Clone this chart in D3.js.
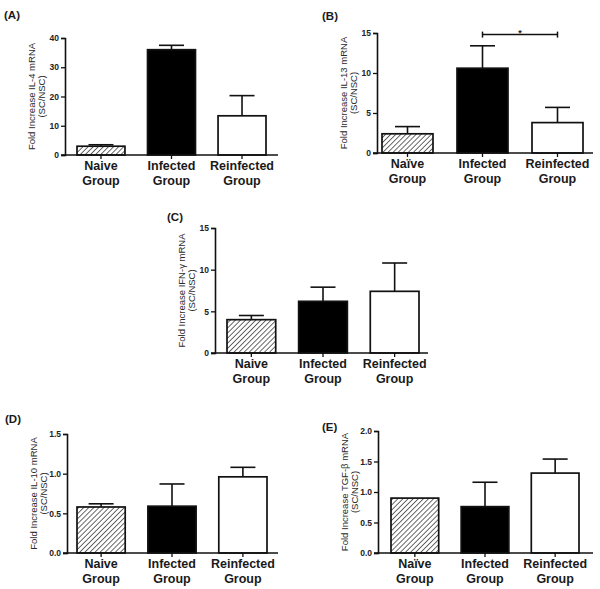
<!DOCTYPE html>
<html>
<head>
<meta charset="utf-8">
<script src="https://cdn.jsdelivr.net/npm/d3@7"></script>
<style>
  body { margin: 0; background: #fff; }
  svg { display: block; font-family: "Liberation Sans", Arial, sans-serif; }
</style>
</head>
<body>
<div id="container"></div>
<script>
const WIDTH = 600;
const HEIGHT = 589;

// categories
const groupsPlain = ["Naive", "Infected", "Reinfected"];
const groupsUmlaut = ["Naïve", "Infected", "Reinfected"];
const fills = ["hatch", "#000", "#fff"];

// series: means and upper error (SEM)
const il4Mean = [3.0, 36.0, 13.4];
const il4Sem = [0.5, 1.5, 6.9];
const il13Mean = [2.4, 10.6, 3.8];
const il13Sem = [0.9, 2.8, 1.9];
const ifngMean = [4.0, 6.2, 7.4];
const ifngSem = [0.5, 1.7, 3.4];
const il10Mean = [0.58, 0.59, 0.96];
const il10Sem = [0.04, 0.28, 0.12];
const tgfbMean = [0.9, 0.76, 1.31];
const tgfbSem = [0.0, 0.4, 0.23];

// tick labels
const il4Ticks = [0, 10, 20, 30, 40];
const il13Ticks = [0, 5, 10, 15];
const ifngTicks = [0, 5, 10, 15];
const il10Ticks = [0, 0.5, 1.0, 1.5];
const tgfbTicks = [0, 0.5, 1.0, 1.5, 2.0];

const svg = d3
  .select("#container")
  .append("svg")
  .attr("width", WIDTH)
  .attr("height", HEIGHT);

const defs = svg.append("defs");
const pattern = defs
  .append("pattern")
  .attr("id", "hatch")
  .attr("patternUnits", "userSpaceOnUse")
  .attr("width", 3.6)
  .attr("height", 3.6)
  .attr("patternTransform", "rotate(45)");
pattern.append("rect").attr("width", 3.6).attr("height", 3.6).attr("fill", "#fff");
pattern
  .append("line")
  .attr("x1", 0)
  .attr("y1", 0)
  .attr("x2", 0)
  .attr("y2", 3.6)
  .attr("stroke", "#444")
  .attr("stroke-width", 1.6);

function drawPanel(p) {
  const g = svg.append("g");

  const y = d3.scaleLinear().domain([0, p.max]).range([p.y0, p.y1]);
  const x = d3
    .scaleBand()
    .domain(d3.range(p.means.length))
    .range([p.bx0, p.bx1])
    .paddingInner(0.32)
    .paddingOuter(0);
  const bw = x.bandwidth();
  const capW = 25;

  // bars
  g.selectAll("rect.bar")
    .data(p.means)
    .enter()
    .append("rect")
    .attr("class", "bar")
    .attr("x", (d, i) => x(i))
    .attr("y", (d) => y(d))
    .attr("width", bw)
    .attr("height", (d) => y(0) - y(d))
    .attr("fill", (d, i) => (fills[i] === "hatch" ? "url(#hatch)" : fills[i]))
    .attr("stroke", "#111")
    .attr("stroke-width", 1.7);

  // error bars (upper only)
  const err = g
    .selectAll("g.err")
    .data(p.means.map((m, i) => ({ m, s: p.sem[i], i })).filter((d) => d.s > 0))
    .enter()
    .append("g")
    .attr("stroke", "#111")
    .attr("stroke-width", 1.6);
  err
    .append("line")
    .attr("x1", (d) => x(d.i) + bw / 2)
    .attr("x2", (d) => x(d.i) + bw / 2)
    .attr("y1", (d) => y(d.m))
    .attr("y2", (d) => y(d.m + d.s));
  err
    .append("line")
    .attr("x1", (d) => x(d.i) + bw / 2 - capW / 2)
    .attr("x2", (d) => x(d.i) + bw / 2 + capW / 2)
    .attr("y1", (d) => y(d.m + d.s))
    .attr("y2", (d) => y(d.m + d.s));

  // y axis
  const yAxis = d3
    .axisLeft(y)
    .tickValues(p.ticks)
    .tickSize(4)
    .tickPadding(2)
    .tickFormat(p.fmt);
  const ya = g
    .append("g")
    .attr("transform", `translate(${p.ax0}, 0)`)
    .call(yAxis);
  ya.select(".domain").attr("stroke", "#111").attr("stroke-width", 1.6);
  ya.selectAll(".tick line").attr("stroke", "#111").attr("stroke-width", 1.3);
  ya.selectAll(".tick text")
    .attr("fill", "#222")
    .attr("font-size", 8.5)
    .attr("font-weight", "bold");

  // x axis line
  g.append("line")
    .attr("x1", p.ax0 - 4)
    .attr("x2", p.ax1)
    .attr("y1", y(0))
    .attr("y2", y(0))
    .attr("stroke", "#111")
    .attr("stroke-width", 1.6);
  g.selectAll("line.xt")
    .data(p.means)
    .enter()
    .append("line")
    .attr("class", "xt")
    .attr("x1", (d, i) => x(i) + bw / 2)
    .attr("x2", (d, i) => x(i) + bw / 2)
    .attr("y1", y(0))
    .attr("y2", y(0) + 4)
    .attr("stroke", "#111")
    .attr("stroke-width", 1.3);

  // category labels
  const cat = g
    .selectAll("text.cat")
    .data(p.groups)
    .enter()
    .append("text")
    .attr("class", "cat")
    .attr("text-anchor", "middle")
    .attr("font-size", 12.5)
    .attr("font-weight", "bold")
    .attr("fill", "#1a1a1a");
  cat.append("tspan")
    .attr("x", (d, i) => x(i) + bw / 2)
    .attr("y", y(0) + 15)
    .text((d) => d);
  cat.append("tspan")
    .attr("x", (d, i) => x(i) + bw / 2)
    .attr("y", y(0) + 30)
    .text("Group");

  // y axis title
  const cy = (p.y0 + p.y1) / 2;
  const yt = g
    .append("text")
    .attr("transform", `translate(${p.ax0 - 30}, ${cy}) rotate(-90)`)
    .attr("text-anchor", "middle")
    .attr("font-size", 9.5)
    .attr("fill", "#2a2a2a");
  yt.append("tspan").attr("x", 0).attr("y", 0).text(p.title);
  yt.append("tspan").attr("x", 0).attr("y", 9.5).text("(SC/NSC)");

  // panel letter
  g.append("text")
    .attr("x", p.lx)
    .attr("y", p.ly)
    .attr("font-size", 11.5)
    .attr("font-weight", "bold")
    .attr("fill", "#1a1a1a")
    .text(p.letter);

  return { g, x, y, bw };
}

const f0 = d3.format("d");
const f1 = d3.format(".1f");

drawPanel({
  letter: "(A)", lx: 4, ly: 19,
  means: il4Mean, sem: il4Sem, groups: groupsPlain, ticks: il4Ticks, fmt: f0, max: 40,
  title: "Fold Increase IL-4 mRNA",
  ax0: 65, ax1: 278, y0: 155, y1: 38, bx0: 77, bx1: 266,
});

const pB = drawPanel({
  letter: "(B)", lx: 322, ly: 20,
  means: il13Mean, sem: il13Sem, groups: groupsUmlaut, ticks: il13Ticks, fmt: f0, max: 15,
  title: "Fold Increase IL-13 mRNA",
  ax0: 377, ax1: 593, y0: 153, y1: 33, bx0: 382, bx1: 583,
});

// significance bracket Infected vs Reinfected
{
  const bracketY = pB.y(14.8);
  const xa = pB.x(1) + pB.bw / 2;
  const xb = pB.x(2) + pB.bw / 2;
  const br = pB.g.append("g").attr("stroke", "#111").attr("stroke-width", 1.5);
  br.append("line").attr("x1", xa).attr("x2", xb).attr("y1", bracketY).attr("y2", bracketY);
  br.append("line").attr("x1", xa).attr("x2", xa).attr("y1", bracketY - 3).attr("y2", bracketY + 3);
  br.append("line").attr("x1", xb).attr("x2", xb).attr("y1", bracketY - 3).attr("y2", bracketY + 3);
  pB.g.append("text")
    .attr("x", (xa + xb) / 2)
    .attr("y", bracketY + 1)
    .attr("text-anchor", "middle")
    .attr("font-size", 9)
    .attr("font-weight", "bold")
    .attr("fill", "#222")
    .text("*");
}

drawPanel({
  letter: "(C)", lx: 167, ly: 221,
  means: ifngMean, sem: ifngSem, groups: groupsPlain, ticks: ifngTicks, fmt: f0, max: 15,
  title: "Fold Increase IFN-γ mRNA",
  ax0: 215, ax1: 428, y0: 353, y1: 228, bx0: 227, bx1: 419,
});

drawPanel({
  letter: "(D)", lx: 5, ly: 423,
  means: il10Mean, sem: il10Sem, groups: groupsPlain, ticks: il10Ticks, fmt: f1, max: 1.5,
  title: "Fold Increase IL-10 mRNA",
  ax0: 67, ax1: 278, y0: 553, y1: 434, bx0: 77, bx1: 267,
});

drawPanel({
  letter: "(E)", lx: 322, ly: 431,
  means: tgfbMean, sem: tgfbSem, groups: groupsUmlaut, ticks: tgfbTicks, fmt: f1, max: 2.0,
  title: "Fold Increase TGF-β mRNA",
  ax0: 378, ax1: 593, y0: 553, y1: 431, bx0: 391, bx1: 579,
});
</script>
</body>
</html>
